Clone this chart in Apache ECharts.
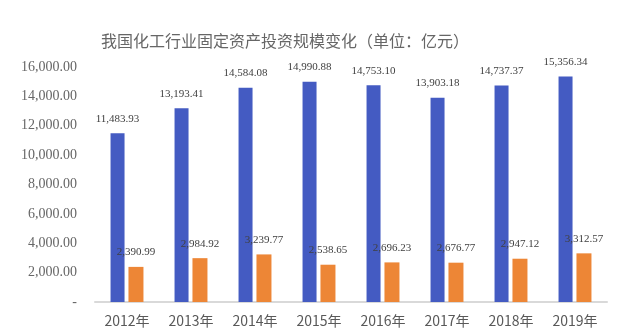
<!DOCTYPE html>
<html><head><meta charset="utf-8">
<script src="https://cdn.jsdelivr.net/npm/echarts@6/dist/echarts.min.js"></script>
<style>html,body{margin:0;padding:0;background:#fff}#c{width:621px;height:334px}</style>
</head><body><div id="c"></div>
<script>
const categories = ['2012年','2013年','2014年','2015年','2016年','2017年','2018年','2019年'];
const investTotal = [11483.93, 13193.41, 14584.08, 14990.88, 14753.10, 13903.18, 14737.37, 15356.34];
const investOther = [2390.99, 2984.92, 3239.77, 2538.65, 2696.23, 2676.77, 2947.12, 3312.57];
const fmt = v => v.toLocaleString('en-US', {minimumFractionDigits: 2, maximumFractionDigits: 2});
const chart = echarts.init(document.getElementById('c'));
chart.setOption({
  animation: false,
  title: {text: '我国化工行业固定资产投资规模变化（单位：亿元）', left: 280, textAlign: 'center', top: 28,
    textStyle: {fontSize: 16, fontWeight: 'normal', color: '#666666', fontFamily: 'Noto Sans CJK SC'}},
  grid: {left: 95, right: 14, top: 67, bottom: 32},
  xAxis: {type: 'category', data: categories,
    axisLine: {lineStyle: {color: '#d9d9d9', width: 2}}, axisTick: {show: false},
    axisLabel: {fontSize: 14, color: '#595959', margin: 12, fontFamily: 'Noto Sans CJK SC'}},
  yAxis: {type: 'value', min: 0, max: 16000, interval: 2000, splitLine: {show: false},
    axisLabel: {fontSize: 14, color: '#666666', margin: 18, fontFamily: 'Liberation Serif',
      formatter: v => v === 0 ? '-' : fmt(v)}},
  series: [
    {type: 'bar', data: investTotal, barWidth: 14, barGap: '28%',
     itemStyle: {color: '#445BC2'},
     label: {show: true, position: 'top', distance: 9, fontSize: 11, color: '#404040', fontFamily: 'Liberation Serif', formatter: p => fmt(p.value)}},
    {type: 'bar', data: investOther, barWidth: 15,
     itemStyle: {color: '#ED8636'},
     label: {show: true, position: 'top', distance: 9, fontSize: 11, color: '#404040', fontFamily: 'Liberation Serif', formatter: p => fmt(p.value)}}
  ]
});
</script></body></html>
